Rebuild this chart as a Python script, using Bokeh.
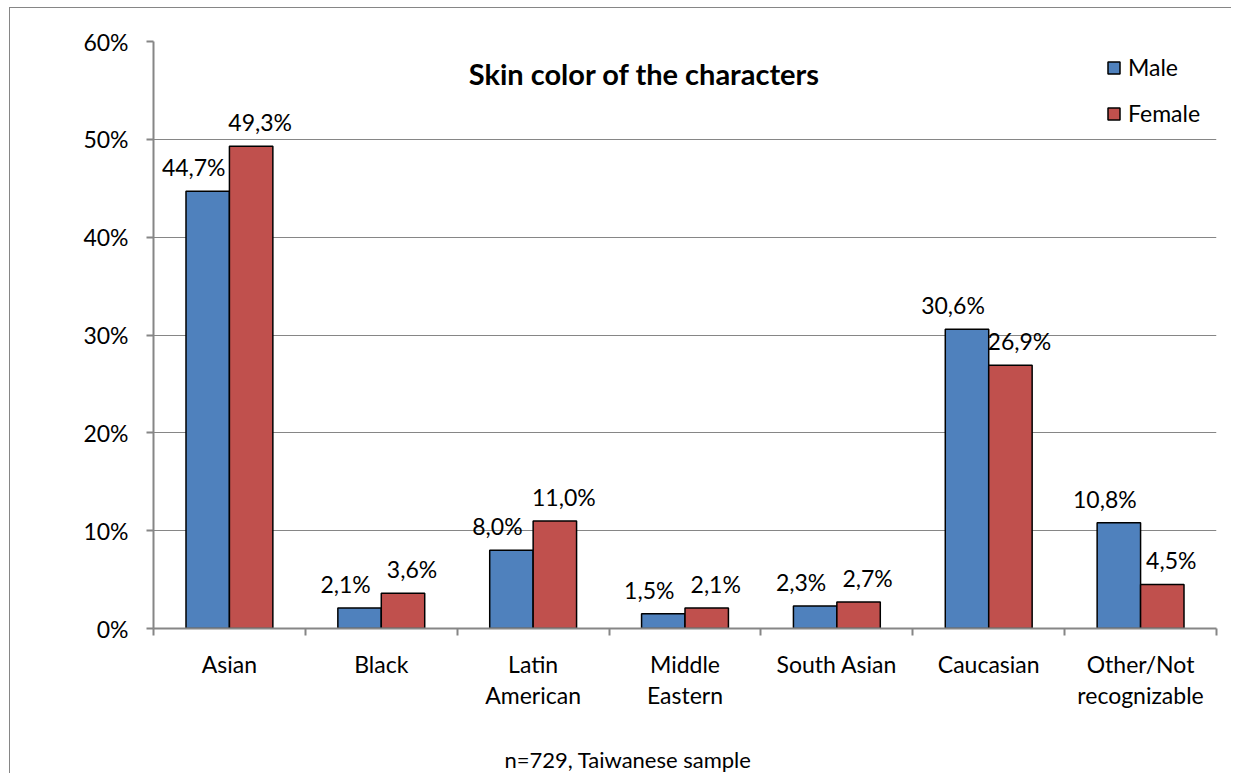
from bokeh.plotting import figure
from bokeh.models import (Range1d, FixedTicker, PrintfTickFormatter, Label, Legend,
                          LegendItem, ColumnDataSource, Title)
from bokeh.embed import file_html
from bokeh.resources import INLINE
from bokeh.core.properties import value
import numpy as np

# ---- data -------------------------------------------------------------
categories = ["Asian", "Black", "Latin\nAmerican", "Middle\nEastern",
              "South Asian", "Caucasian", "Other/Not\nrecognizable"]
male = [44.7, 2.1, 8.0, 1.5, 2.3, 30.6, 10.8]
female = [49.3, 3.6, 11.0, 2.1, 2.7, 26.9, 4.5]
y_ticks = [0, 10, 20, 30, 40, 50, 60]
series_names = ["Male", "Female"]
title_text = "Skin color of the characters"
note_text = "n=729, Taiwanese sample"

# ---- style ------------------------------------------------------------
FONT = "Lato"
GRAY = "#868686"
MALE_COLOR = "#4F81BD"
FEMALE_COLOR = "#C0504D"
BAR_W = 0.286

def pct_label(v):
    return f"{v:.1f}".replace(".", ",") + "%"

n = len(categories)
centers = np.arange(n) + 0.5

male_src = ColumnDataSource(dict(x=centers - BAR_W / 2, top=male,
                                 label=[pct_label(v) for v in male]))
female_src = ColumnDataSource(dict(x=centers + BAR_W / 2, top=female,
                                   label=[pct_label(v) for v in female]))

p = figure(width=1222, height=766,
           x_range=Range1d(0, n), y_range=Range1d(y_ticks[0], y_ticks[-1]),
           output_backend="svg", toolbar_location=None,
           min_border_left=143, min_border_right=16,
           min_border_top=33, min_border_bottom=146)
p.styles = {"margin-left": "9px", "margin-top": "7px",
            "border-left": f"1px solid {GRAY}", "border-top": f"1px solid {GRAY}"}
p.outline_line_color = None
p.background_fill_color = "white"
p.border_fill_color = "white"

r_male = p.vbar(x="x", top="top", bottom=0, width=BAR_W, source=male_src,
                fill_color=MALE_COLOR, line_color="black", line_width=1.5)
r_female = p.vbar(x="x", top="top", bottom=0, width=BAR_W, source=female_src,
                  fill_color=FEMALE_COLOR, line_color="black", line_width=1.5)

# value labels above the bars
for src, dx in ((male_src, -14), (female_src, 9)):
    p.text(x="x", y="top", text="label", source=src,
           x_offset=dx, y_offset=-24,
           text_align="center", text_baseline="middle",
           text_font=value(FONT), text_font_size="23px", text_color="black")

# ---- axes -------------------------------------------------------------
p.xgrid.visible = False
p.ygrid.ticker = FixedTicker(ticks=y_ticks)
p.ygrid.grid_line_color = GRAY
p.ygrid.grid_line_width = 1.2

yax = p.yaxis[0]
yax.ticker = FixedTicker(ticks=y_ticks)
yax.formatter = PrintfTickFormatter(format="%d%%")
yax.axis_line_color = GRAY
yax.axis_line_width = 2
yax.major_tick_line_color = GRAY
yax.major_tick_line_width = 2
yax.major_tick_out = 7
yax.major_tick_in = 0
yax.minor_tick_line_color = None
yax.major_label_standoff = 18
yax.major_label_text_font = FONT
yax.major_label_text_font_size = "23px"
yax.major_label_text_color = "black"

xax = p.xaxis[0]
xax.ticker = FixedTicker(ticks=list(centers), minor_ticks=list(range(n + 1)))
xax.major_label_overrides = {float(c): lab for c, lab in zip(centers, categories)}
xax.axis_line_color = GRAY
xax.axis_line_width = 2
xax.major_tick_line_color = None
xax.minor_tick_line_color = GRAY
xax.minor_tick_line_width = 2
xax.minor_tick_out = 7
xax.minor_tick_in = 0
xax.major_label_standoff = 14
xax.major_label_text_font = FONT
xax.major_label_text_font_size = "23px"
xax.major_label_text_color = "black"
xax.major_label_text_line_height = 1.12
# blank axis label keeps some room between the category names and the note
xax.axis_label = " "
xax.axis_label_text_font_size = "10px"
xax.axis_label_standoff = 17

# ---- title, note, legend ---------------------------------------------
p.add_layout(Label(x=491, y=555, x_units="screen", y_units="screen",
                   text=title_text, text_align="center", text_baseline="middle",
                   text_font=FONT, text_font_size="29px", text_font_style="bold",
                   text_color="black"))

note = Title(text=note_text, align="left", offset=351, standoff=2,
             text_font=FONT, text_font_size="22px", text_font_style="normal",
             text_color="black")
p.add_layout(note, "below")

legend = Legend(items=[LegendItem(label=series_names[0], renderers=[r_male]),
                       LegendItem(label=series_names[1], renderers=[r_female])],
                location=(953, 500), margin=0, padding=0,
                glyph_width=15, glyph_height=15, label_standoff=7,
                spacing=16, label_height=30,
                label_text_font=FONT, label_text_font_size="23px",
                label_text_color="black",
                background_fill_alpha=0, border_line_color=None)
p.add_layout(legend)

open("out.html", "w").write(file_html(p, INLINE))
